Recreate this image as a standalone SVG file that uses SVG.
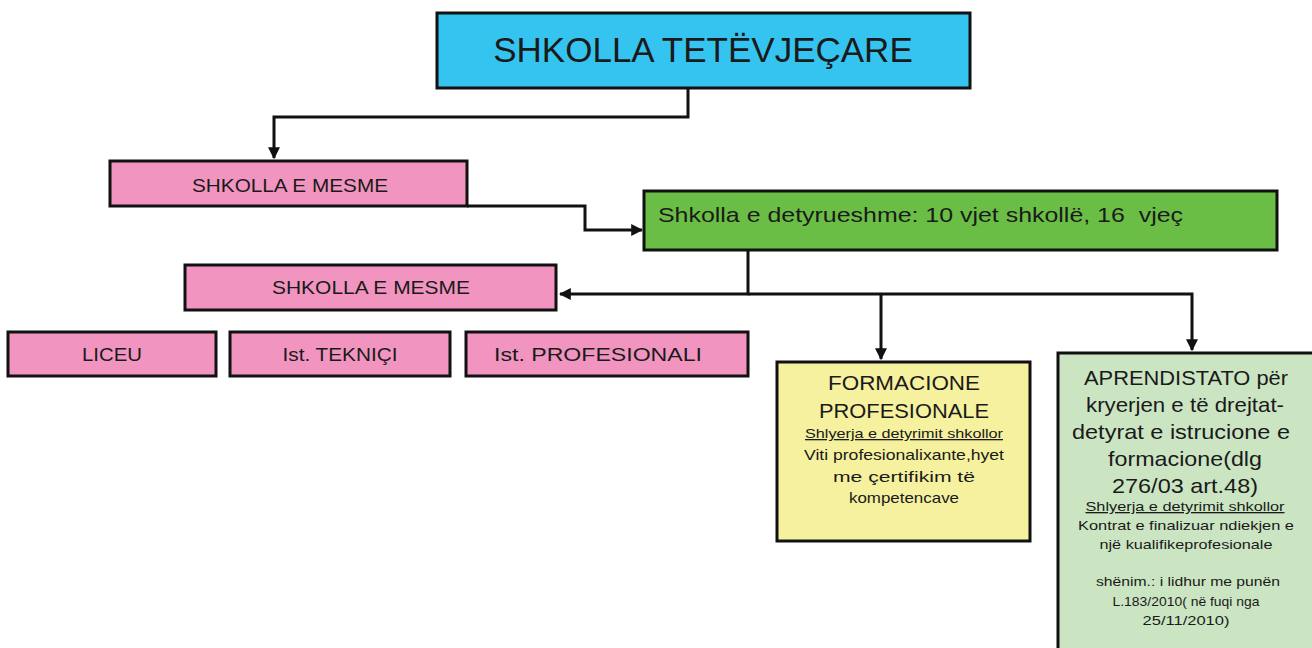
<svg xmlns="http://www.w3.org/2000/svg" width="1312" height="648" viewBox="0 0 1312 648">
<defs>
<style>
.box{stroke:#111;stroke-width:3}
.cyan{fill:#35C3F0}.pink{fill:#F195C0}.green{fill:#6BBE45}.yellow{fill:#F5F19E}.lgreen{fill:#CBE5C3}
text{font-family:"Liberation Sans",Arial,sans-serif;fill:#1a1a1a}
.c{text-anchor:middle}
.pk{font-size:18px}
.h{font-size:21px}
.s{font-size:13px}
.m{font-size:15px}
.u{text-decoration:underline}
.conn{fill:none;stroke:#111;stroke-width:3}
</style>
<marker id="arr" viewBox="0 0 10 10" refX="9" refY="5" markerWidth="4" markerHeight="4" orient="auto" markerUnits="strokeWidth">
<path d="M0,0 L10,5 L0,10 z" fill="#111"/>
</marker>
</defs>
<rect width="1312" height="648" fill="#fff"/>
<g id="connectors">
<path class="conn" d="M688,88 V117 H274 V158" marker-end="url(#arr)"/>
<path class="conn" d="M467,206 H585 V230 H642" marker-end="url(#arr)"/>
<path class="conn" d="M748,250 V294 H560" marker-end="url(#arr)"/>
<path class="conn" d="M748,294 H1192 V350" marker-end="url(#arr)"/>
<path class="conn" d="M881,294 V359" marker-end="url(#arr)"/>
</g>
<g id="n-top">
<rect class="box cyan" x="437" y="13" width="533" height="75"/>
<text class="c" x="703" y="62" font-size="35">SHKOLLA TETËVJEÇARE</text>
</g>
<g id="n-mesme1">
<rect class="box pink" x="110" y="161" width="357" height="45"/>
<text class="c pk" x="290" y="192" textLength="196" lengthAdjust="spacingAndGlyphs">SHKOLLA E MESME</text>
</g>
<g id="n-detyrueshme">
<rect class="box green" x="644" y="191" width="633" height="59"/>
<text x="658" y="222" font-size="21" textLength="525" lengthAdjust="spacingAndGlyphs" xml:space="preserve">Shkolla e detyrueshme: 10 vjet shkollë, 16  vjeç</text>
</g>
<g id="n-mesme2">
<rect class="box pink" x="185" y="265" width="371" height="45"/>
<text class="c pk" x="371" y="294" textLength="198" lengthAdjust="spacingAndGlyphs">SHKOLLA E MESME</text>
</g>
<g id="n-liceu">
<rect class="box pink" x="8" y="332" width="208" height="44"/>
<text class="c pk" x="112" y="361" textLength="60" lengthAdjust="spacingAndGlyphs">LICEU</text>
</g>
<g id="n-teknici">
<rect class="box pink" x="230" y="332" width="220" height="44"/>
<text class="c pk" x="340" y="361" textLength="115" lengthAdjust="spacingAndGlyphs">Ist. TEKNIÇI</text>
</g>
<g id="n-profesionali">
<rect class="box pink" x="466" y="332" width="282" height="44"/>
<text class="c pk" x="598" y="361" textLength="208" lengthAdjust="spacingAndGlyphs">Ist. PROFESIONALI</text>
</g>
<g id="n-formacione">
<rect class="box yellow" x="777" y="362" width="253" height="179"/>
<text class="c h" x="904" y="390" textLength="152" lengthAdjust="spacingAndGlyphs">FORMACIONE</text>
<text class="c h" x="904" y="418" textLength="170" lengthAdjust="spacingAndGlyphs">PROFESIONALE</text>
<text class="c s u" x="904" y="438" textLength="198" lengthAdjust="spacingAndGlyphs">Shlyerja e detyrimit shkollor</text>
<text class="c m" x="904" y="460" textLength="200" lengthAdjust="spacingAndGlyphs">Viti profesionalixante,hyet</text>
<text class="c m" x="904" y="482" textLength="142" lengthAdjust="spacingAndGlyphs">me çertifikim të</text>
<text class="c m" x="904" y="503" textLength="110" lengthAdjust="spacingAndGlyphs">kompetencave</text>
</g>
<g id="n-aprendistato">
<rect class="box lgreen" x="1058" y="353" width="262" height="310"/>
<text class="c h" x="1186" y="385" textLength="204" lengthAdjust="spacingAndGlyphs">APRENDISTATO për</text>
<text class="c h" x="1185" y="412" textLength="198" lengthAdjust="spacingAndGlyphs">kryerjen e të drejtat-</text>
<text class="c h" x="1181" y="439" textLength="218" lengthAdjust="spacingAndGlyphs">detyrat e istrucione e</text>
<text class="c h" x="1185" y="466" textLength="154" lengthAdjust="spacingAndGlyphs">formacione(dlg</text>
<text class="c h" x="1185" y="493" textLength="146" lengthAdjust="spacingAndGlyphs">276/03 art.48)</text>
<text class="c s u" x="1185" y="511" textLength="199" lengthAdjust="spacingAndGlyphs">Shlyerja e detyrimit shkollor</text>
<text class="c s" x="1186" y="530" textLength="216" lengthAdjust="spacingAndGlyphs">Kontrat e finalizuar ndiekjen e</text>
<text class="c s" x="1186" y="549" textLength="173" lengthAdjust="spacingAndGlyphs">një kualifikeprofesionale</text>
<text class="c s" x="1188" y="586" textLength="184" lengthAdjust="spacingAndGlyphs">shënim.: i lidhur me punën</text>
<text class="c s" x="1186" y="606" textLength="147" lengthAdjust="spacingAndGlyphs">L.183/2010( në fuqi nga</text>
<text class="c s" x="1186" y="625" textLength="87" lengthAdjust="spacingAndGlyphs">25/11/2010)</text>
</g>
</svg>
